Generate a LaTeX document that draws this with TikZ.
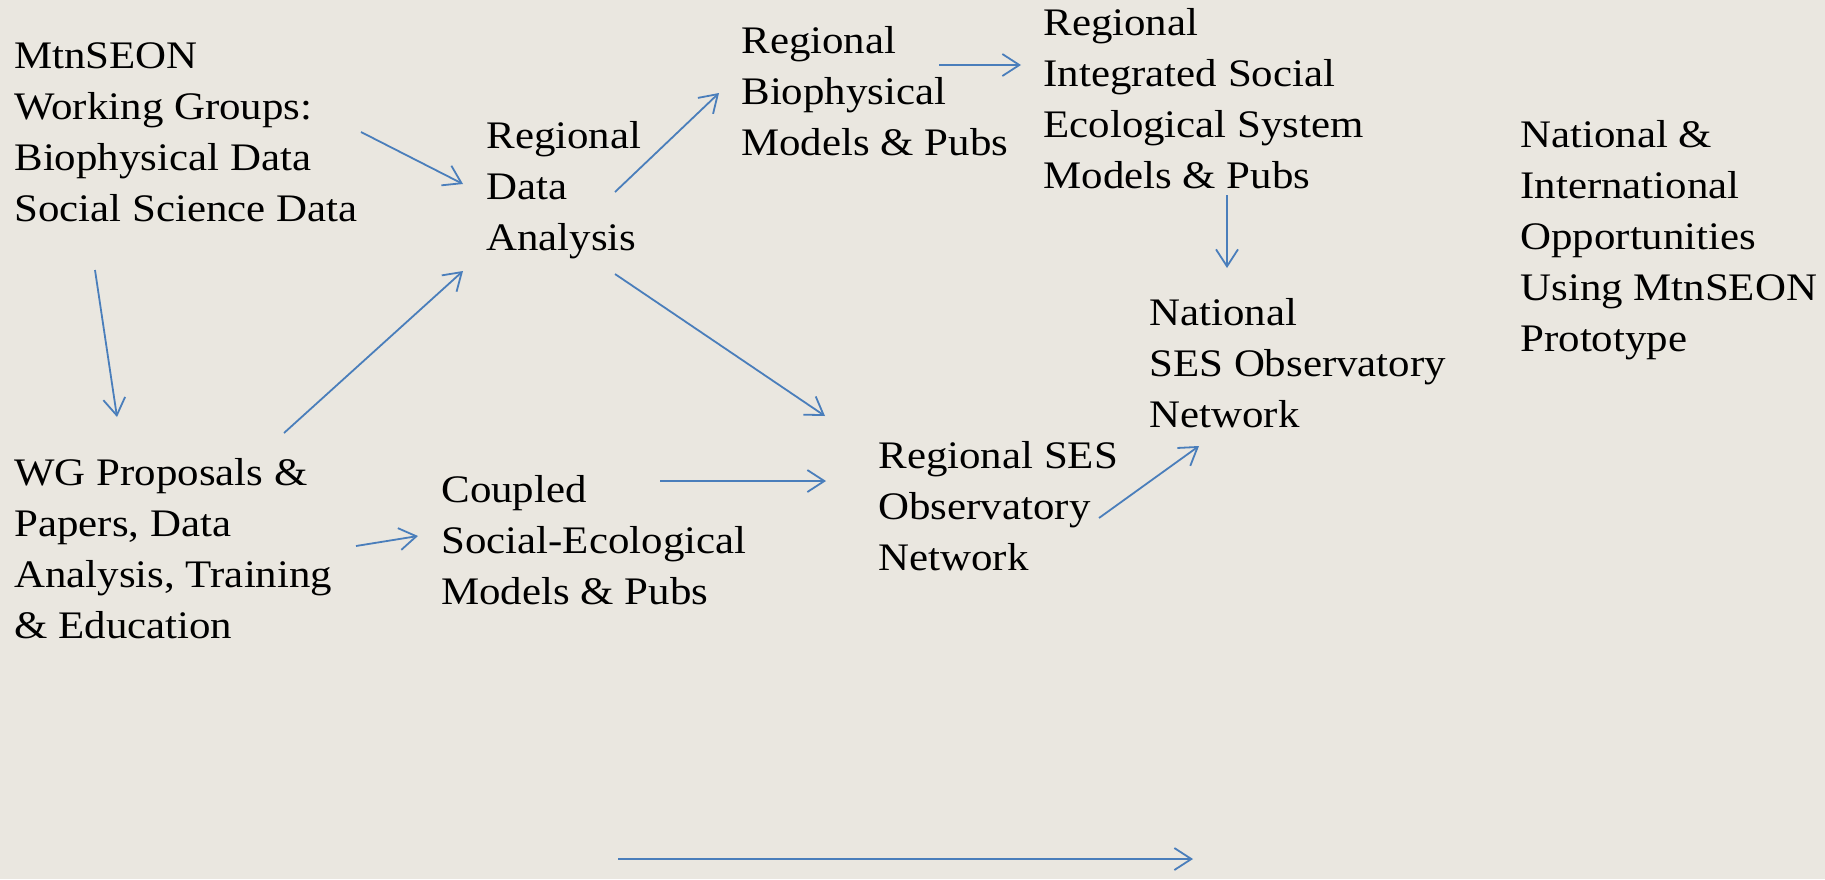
\documentclass[tikz,border=0pt]{standalone}
\usepackage{fontspec}
\setmainfont{Liberation Serif}[FakeStretch=1.1]
\usetikzlibrary{arrows.meta,calc}
\definecolor{bg}{HTML}{EAE7E0}
\definecolor{arrblue}{HTML}{4A7EBB}
\tikzset{
  lbl/.style={anchor=base west, align=left, inner sep=0pt, text=black,
    font=\fontsize{19.5}{25.5}\selectfont},
  arr/.style={draw=arrblue, line width=0.9pt, -{Straight Barb[length=8.5pt,width=11pt,line width=0.9pt]}}
}
\begin{document}
\begin{tikzpicture}[x=0.5pt,y=-0.5pt]
\fill[bg] (0,0) rectangle (1825,879);
\useasboundingbox (0,0) rectangle (1825,879);

% nodes placed at the baseline of their last line
\node[lbl] (mtn) at (14,221) {MtnSEON\\Working Groups:\\Biophysical Data\\Social Science Data};
\node[lbl] (wg) at (14,638) {WG Proposals \&\\Papers, Data\\Analysis, Training\\\& Education};
\node[lbl] (rda) at (486,250) {Regional\\Data\\Analysis};
\node[lbl] (coup) at (441,604) {Coupled\\Social-Ecological\\Models \& Pubs};
\node[lbl] (rbio) at (741,155) {Regional\\Biophysical\\Models \& Pubs};
\node[lbl] (rint) at (1043,188) {Regional\\Integrated Social\\Ecological System\\Models \& Pubs};
\node[lbl] (rses) at (878,570) {Regional SES\\Observatory\\Network};
\node[lbl] (nses) at (1149,427) {National\\SES Observatory\\Network};
\node[lbl] (nat) at (1520,351) {National \&\\International\\Opportunities\\Using MtnSEON\\Prototype};

\coordinate (b1) at (618,859);
\coordinate (b2) at (1193,859);

\draw[arr] ($(mtn.base west)+(81,49)$) -- ($(wg.base west)+(103,-221)$);
\draw[arr] ($(mtn.base west)+(347,-89)$) -- ($(rda.base west)+(-23,-66)$);
\draw[arr] ($(wg.base west)+(270,-205)$) -- ($(rda.base west)+(-23,21)$);
\draw[arr] ($(wg.base west)+(342,-92)$) -- ($(coup.base west)+(-23,-68)$);
\draw[arr] ($(rda.base west)+(129,-58)$) -- ($(rbio.base west)+(-22,-62)$);
\draw[arr] ($(rda.base west)+(129,24)$) -- ($(rses.base west)+(-53,-154)$);
\draw[arr] ($(coup.base west)+(219,-123)$) -- ($(rses.base west)+(-52,-89)$);
\draw[arr] ($(rbio.base west)+(198,-90)$) -- ($(rint.base west)+(-22,-123)$);
\draw[arr] ($(rint.base west)+(184,7)$) -- ($(nses.base west)+(78,-159)$);
\draw[arr] ($(rses.base west)+(221,-52)$) -- ($(nses.base west)+(50,19)$);
\draw[arr] (b1) -- (b2);
\end{tikzpicture}
\end{document}
